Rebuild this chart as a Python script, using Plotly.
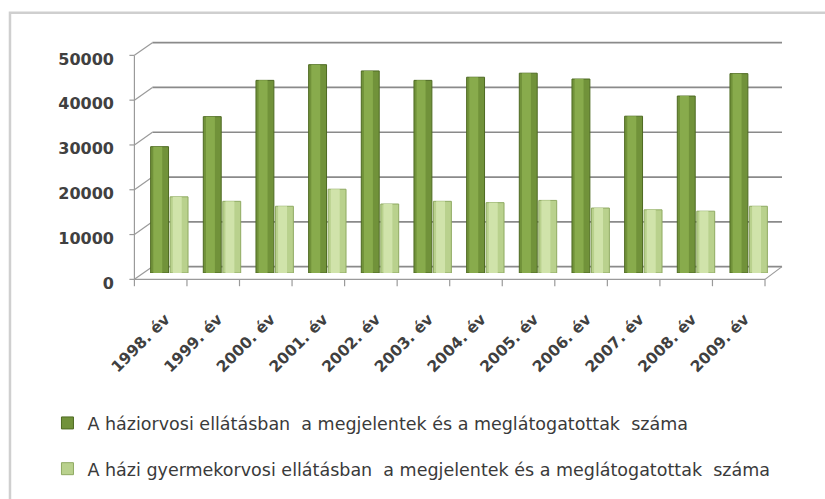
import plotly.graph_objects as go

# Data: visits in GP and paediatric primary care, 1998-2009
years = ["1998. év", "1999. év", "2000. év", "2001. év", "2002. év", "2003. év",
         "2004. év", "2005. év", "2006. év", "2007. év", "2008. év", "2009. év"]
haziorvosi = [28200, 34900, 43000, 46500, 45100, 43000, 43700, 44600, 43300, 35000, 39500, 44500]
gyermekorvosi = [17000, 16000, 14900, 18700, 15400, 16000, 15700, 16200, 14500, 14100, 13800, 14900]
y_ticks = [0, 10000, 20000, 30000, 40000, 50000]
y_tick_text = [str(v) for v in y_ticks]

name_a = "A háziorvosi ellátásban\u00a0 a megjelentek és a meglátogatottak\u00a0 száma"
name_b = "A házi gyermekorvosi ellátásban\u00a0 a megjelentek és a meglátogatottak\u00a0 száma"

W_FIG, H_FIG = 825, 499
L, R, T, B = 142.6, 50, 49, 221
PW = W_FIG - L - R
PH = H_FIG - T - B
Y_MAX = 50000
DEPTH = 6.5          # vertical half-depth of the pseudo 3D box (px)
X_FRONT, X_BACK = 134, 152
X_BACK_RIGHT, X_FRONT_RIGHT = 782, 765

def xp(px):
    return (px - L) / PW

def yp(py):
    return (H_FIG - B - py) / PH

def y_mid(v):
    return (H_FIG - B) - v / Y_MAX * PH

GRID = "#8a8a8a"
AXIS = "#9a9a9a"

fig = go.Figure()

# series bars with a lighter stripe to suggest a cylinder
specs = [
    (haziorvosi, name_a, "#71923a", "#88ab4c", "#4e6a22", -0.355),
    (gyermekorvosi, name_b, "#b9d18d", "#d0e3aa", "#8faa62", 0.015),
]
for vals, name, base_col, hi_col, edge_col, off in specs:
    fig.add_trace(go.Bar(
        x=years, y=vals, name=name, legendgroup=name,
        width=0.34, offset=off,
        marker=dict(color=base_col, line=dict(color=edge_col, width=1)),
        hoverinfo="x+y",
    ))
    fig.add_trace(go.Bar(
        x=years, y=vals, name=name, legendgroup=name, showlegend=False,
        width=0.17, offset=off + 0.05,
        marker=dict(color=hi_col, line=dict(width=0)),
        hoverinfo="skip",
    ))

shapes = []
def line(x0, y0, x1, y1, color=GRID, width=1.7):
    shapes.append(dict(type="line", xref="paper", yref="paper",
                       x0=xp(x0), y0=yp(y0), x1=xp(x1), y1=yp(y1),
                       line=dict(color=color, width=width), layer="below"))

# back wall gridlines, side slants and left ticks
for v in y_ticks:
    yb = y_mid(v) - DEPTH
    yf = y_mid(v) + DEPTH
    line(X_BACK, yb, X_BACK_RIGHT, yb)
    line(X_FRONT, yf, X_BACK, yb, AXIS, 1.2)
    line(X_FRONT - 5, yf, X_FRONT, yf, AXIS, 1.2)

# front vertical axis
line(X_FRONT, y_mid(0) + DEPTH, X_FRONT, y_mid(Y_MAX) + DEPTH, AXIS, 1.2)
# floor front and right edges
line(X_FRONT, y_mid(0) + DEPTH, X_FRONT_RIGHT, y_mid(0) + DEPTH, AXIS, 1.2)
line(X_FRONT_RIGHT, y_mid(0) + DEPTH, X_BACK_RIGHT, y_mid(0) - DEPTH, AXIS, 1.2)
# category ticks along the front edge
n = len(years)
for i in range(n + 1):
    x = X_FRONT + i * (X_FRONT_RIGHT - X_FRONT) / n
    line(x, y_mid(0) + DEPTH, x, y_mid(0) + DEPTH + 7, AXIS, 1.2)

# outer chart frame
shapes.append(dict(type="rect", xref="paper", yref="paper",
                   x0=xp(9.5), y0=yp(12), x1=xp(840), y1=yp(520),
                   line=dict(color="#cfcfcf", width=2.5), layer="below"))

fig.update_layout(
    width=W_FIG, height=H_FIG,
    margin=dict(l=L, r=R, t=T, b=B, pad=0),
    paper_bgcolor="white", plot_bgcolor="rgba(0,0,0,0)",
    barmode="overlay",
    shapes=shapes,
    showlegend=True,
    legend=dict(
        x=xp(47), y=yp(413), xanchor="left", yanchor="top",
        orientation="v", tracegroupgap=20,
        font=dict(family="DejaVu Sans", size=17.5, color="#3a3a3a"),
        bgcolor="rgba(0,0,0,0)",
    ),
    xaxis=dict(
        type="category", range=[-0.5, n - 0.5],
        showgrid=False, zeroline=False, showline=False, ticks="",
        tickangle=-45, ticklabelstandoff=33, ticklabelshift=-4,
        tickfont=dict(family="DejaVu Sans", size=15.5, color="#404040", weight="bold"),
    ),
    yaxis=dict(
        range=[0, Y_MAX], tickvals=y_ticks, ticktext=y_tick_text,
        showgrid=False, zeroline=False, showline=False, ticks="",
        ticklabelshift=10, ticklabelstandoff=28,
        tickfont=dict(family="DejaVu Sans", size=16, color="#404040", weight="bold"),
    ),
)

fig.write_html("out.html")
